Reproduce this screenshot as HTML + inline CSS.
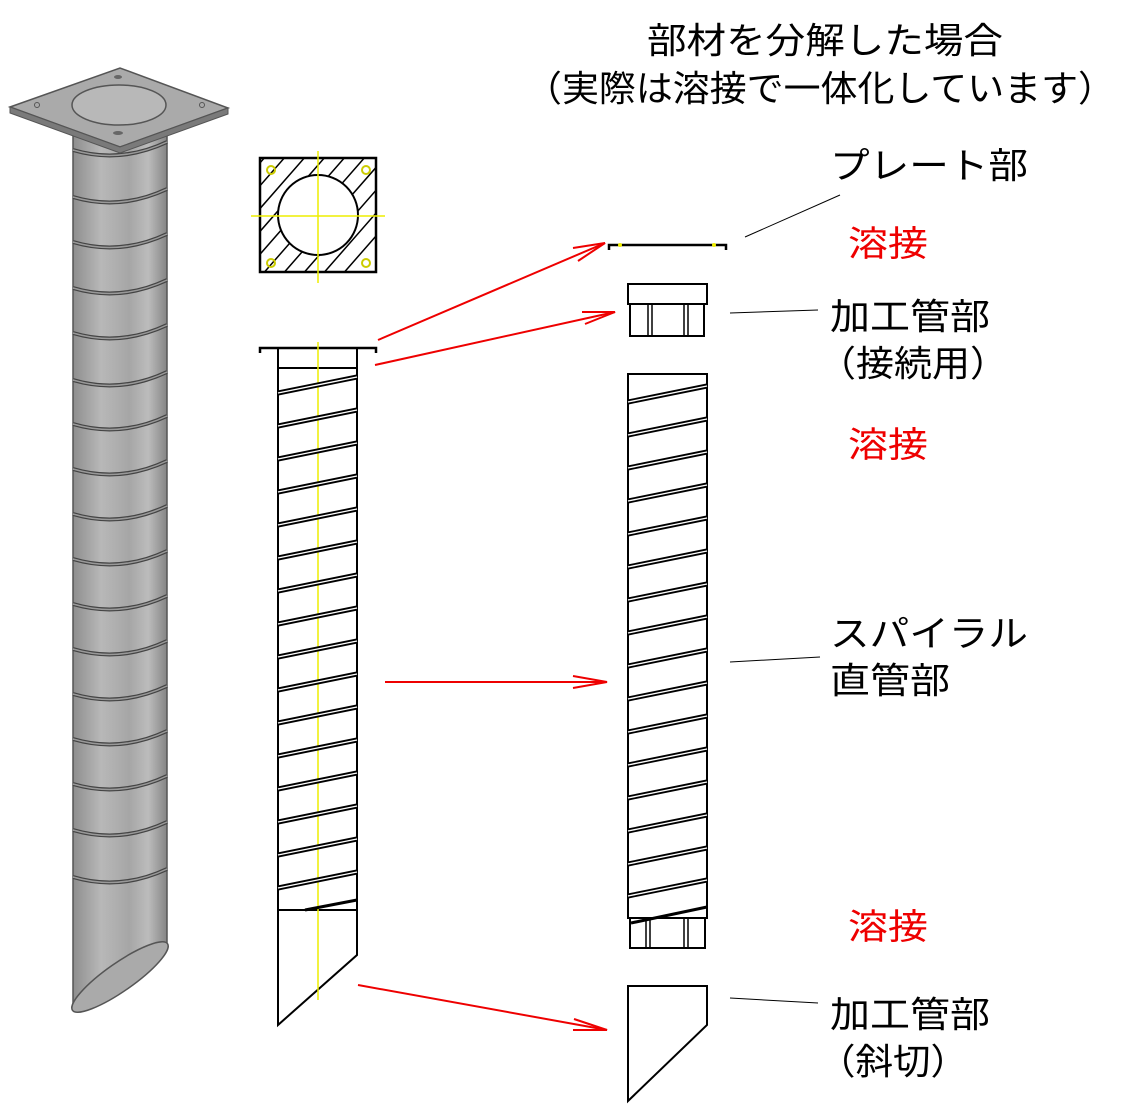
<!DOCTYPE html>
<html><head><meta charset="utf-8"><style>
body{margin:0;background:#fff;width:1132px;height:1110px;overflow:hidden}
svg{display:block}
text{font-family:"Liberation Sans","Noto Sans CJK JP",sans-serif}
</style></head><body>
<svg width="1132" height="1110" viewBox="0 0 1132 1110" xmlns="http://www.w3.org/2000/svg">
<defs>
<linearGradient id="pg" x1="0" x2="1" y1="0" y2="0">
<stop offset="0" stop-color="#8e8e8e"/><stop offset="0.3" stop-color="#b8b8b8"/><stop offset="0.6" stop-color="#a6a6a6"/><stop offset="0.8" stop-color="#bcbcbc"/><stop offset="1" stop-color="#858585"/>
</linearGradient>
<g id="sp"><line x1="0" y1="0" x2="79" y2="-16" stroke="#000" stroke-width="5"/><line x1="0" y1="0" x2="79" y2="-16" stroke="#fff" stroke-width="1.4"/></g>
<g id="ring"><path d="M0 0 Q47 14 94 -8" fill="none" stroke="#444" stroke-width="4"/><path d="M0 0 Q47 14 94 -8" fill="none" stroke="#999" stroke-width="1.5"/></g>
</defs>

<!-- Left 3D pile -->
<path d="M73 135 L167 135 L167 945 L73 1008 Z" fill="url(#pg)" stroke="#555" stroke-width="1.5"/>
<ellipse cx="120" cy="977" rx="58" ry="14" transform="rotate(-35 120 977)" fill="#aaa" stroke="#555" stroke-width="1.5"/>
<g transform="translate(73,0)">
<use href="#ring" y="150"/><use href="#ring" y="197"/><use href="#ring" y="242"/><use href="#ring" y="288"/><use href="#ring" y="333"/><use href="#ring" y="380"/><use href="#ring" y="424"/><use href="#ring" y="469"/><use href="#ring" y="514"/><use href="#ring" y="559"/><use href="#ring" y="604"/><use href="#ring" y="649"/><use href="#ring" y="694"/><use href="#ring" y="739"/><use href="#ring" y="784"/><use href="#ring" y="830"/><use href="#ring" y="877"/>
</g>
<path d="M10 107 L120 68 L228 108 L120 147 Z" fill="#aaa" stroke="#555" stroke-width="1.5"/>
<path d="M10 107 L10 113 L120 153 L228 114 L228 108 L120 147 Z" fill="#7a7a7a" stroke="#555" stroke-width="1"/>
<ellipse cx="119" cy="105" rx="47" ry="20" fill="#b8b8b8" stroke="#555" stroke-width="1.5"/>
<ellipse cx="118" cy="77" rx="4" ry="2" fill="#666"/><ellipse cx="118" cy="133" rx="5" ry="2" fill="#666"/><circle cx="37" cy="105" r="2.5" fill="none" stroke="#555"/><circle cx="202" cy="105" r="2.5" fill="none" stroke="#555"/>

<!-- Middle plan view -->
<clipPath id="sq"><rect x="260" y="158" width="116" height="114"/></clipPath>
<g clip-path="url(#sq)" stroke="#000" stroke-width="1.5">
<line x1="220" y1="300" x2="360" y2="140"/><line x1="240" y1="300" x2="380" y2="140"/><line x1="260" y1="300" x2="400" y2="140"/><line x1="280" y1="300" x2="420" y2="140"/><line x1="300" y1="300" x2="440" y2="140"/><line x1="320" y1="300" x2="460" y2="140"/><line x1="200" y1="300" x2="340" y2="140"/><line x1="180" y1="300" x2="320" y2="140"/><line x1="160" y1="300" x2="300" y2="140"/><line x1="140" y1="300" x2="280" y2="140"/>
</g>
<circle cx="318" cy="215" r="40" fill="#fff" stroke="#000" stroke-width="2"/>
<rect x="260" y="158" width="116" height="114" fill="none" stroke="#000" stroke-width="2.5"/>
<line x1="318" y1="151" x2="318" y2="283" stroke="#ee0" stroke-width="1.5"/>
<line x1="251" y1="216" x2="385" y2="216" stroke="#ee0" stroke-width="1.5"/>
<g fill="none" stroke="#cc0" stroke-width="2"><circle cx="271" cy="170" r="4"/><circle cx="366" cy="170" r="4"/><circle cx="271" cy="263" r="4"/><circle cx="366" cy="263" r="4"/></g>

<!-- Middle side view -->
<path d="M260 353 L260 348 L376 348 L376 353" fill="none" stroke="#000" stroke-width="2.5"/>
<path d="M278 348 L278 1025 L357 955 L357 348" fill="none" stroke="#000" stroke-width="2"/>
<line x1="278" y1="368" x2="357" y2="368" stroke="#000" stroke-width="2"/>
<line x1="278" y1="910" x2="357" y2="910" stroke="#000" stroke-width="2"/>
<line x1="318" y1="342" x2="318" y2="1000" stroke="#ee0" stroke-width="1.5"/>
<g transform="translate(278,0)">
<use href="#sp" y="393"/><use href="#sp" y="426"/><use href="#sp" y="459"/><use href="#sp" y="492"/><use href="#sp" y="525"/><use href="#sp" y="558"/><use href="#sp" y="591"/><use href="#sp" y="624"/><use href="#sp" y="657"/><use href="#sp" y="690"/><use href="#sp" y="723"/><use href="#sp" y="756"/><use href="#sp" y="789"/><use href="#sp" y="822"/><use href="#sp" y="855"/><use href="#sp" y="888"/>
</g>
<line x1="305" y1="910" x2="357" y2="900" stroke="#000" stroke-width="3"/>

<!-- Right parts -->
<path d="M609 250 L609 245 L726 245 L726 250" fill="none" stroke="#000" stroke-width="2.5"/>
<circle cx="620" cy="245" r="2" fill="#ee0"/><circle cx="714" cy="245" r="2" fill="#ee0"/>
<rect x="628" y="284" width="79" height="20" fill="#fff" stroke="#000" stroke-width="2"/>
<rect x="630" y="304" width="74" height="32" fill="#fff" stroke="#000" stroke-width="2"/>
<g stroke="#000" stroke-width="1.5"><line x1="648" y1="304" x2="648" y2="336"/><line x1="652" y1="304" x2="652" y2="336"/><line x1="684" y1="304" x2="684" y2="336"/><line x1="688" y1="304" x2="688" y2="336"/></g>
<rect x="628" y="374" width="79" height="544" fill="#fff" stroke="#000" stroke-width="2"/>
<g transform="translate(628,0)">
<use href="#sp" y="402"/><use href="#sp" y="435"/><use href="#sp" y="468"/><use href="#sp" y="501"/><use href="#sp" y="534"/><use href="#sp" y="567"/><use href="#sp" y="600"/><use href="#sp" y="633"/><use href="#sp" y="666"/><use href="#sp" y="699"/><use href="#sp" y="732"/><use href="#sp" y="765"/><use href="#sp" y="798"/><use href="#sp" y="831"/><use href="#sp" y="864"/><use href="#sp" y="896"/>
</g>
<rect x="630" y="918" width="75" height="30" fill="#fff" stroke="#000" stroke-width="2"/>
<g stroke="#000" stroke-width="1.5"><line x1="646" y1="918" x2="646" y2="948"/><line x1="650" y1="918" x2="650" y2="948"/><line x1="684" y1="918" x2="684" y2="948"/><line x1="688" y1="918" x2="688" y2="948"/></g>
<line x1="631" y1="923" x2="707" y2="907" stroke="#000" stroke-width="3"/>
<path d="M628 986 L707 986 L707 1025 L628 1101 Z" fill="none" stroke="#000" stroke-width="2"/>

<!-- Red arrows -->
<g stroke="#e00" stroke-width="2" fill="none">
<line x1="378" y1="340" x2="605" y2="243"/><path d="M573 248 L605 243 L578 261"/>
<line x1="375" y1="365" x2="615" y2="312"/><path d="M582 312 L615 312 L585 324"/>
<line x1="385" y1="682" x2="607" y2="682"/><path d="M573 676 L607 682 L573 688"/>
<line x1="358" y1="985" x2="607" y2="1030"/><path d="M574 1019 L607 1030 L573 1030"/>
</g>

<!-- Leader lines -->
<g stroke="#000" stroke-width="1">
<line x1="745" y1="237" x2="840" y2="195"/>
<line x1="730" y1="313" x2="818" y2="310"/>
<line x1="730" y1="662" x2="820" y2="657"/>
<line x1="730" y1="998" x2="818" y2="1003"/>
</g>

<!-- Text -->
<g font-size="36" fill="#000" lengthAdjust="spacingAndGlyphs">
<text x="647" y="53" textLength="356" lengthAdjust="spacingAndGlyphs">部材を分解した場合</text>
<text x="525" y="101" textLength="590" lengthAdjust="spacingAndGlyphs">（実際は溶接で一体化しています）</text>
<text x="830" y="178" textLength="198" lengthAdjust="spacingAndGlyphs">プレート部</text>
<text x="830" y="329" textLength="160" lengthAdjust="spacingAndGlyphs">加工管部</text>
<text x="818" y="376" textLength="190" lengthAdjust="spacingAndGlyphs">（接続用）</text>
<text x="830" y="646" textLength="198" lengthAdjust="spacingAndGlyphs">スパイラル</text>
<text x="830" y="693" textLength="120" lengthAdjust="spacingAndGlyphs">直管部</text>
<text x="830" y="1027" textLength="160" lengthAdjust="spacingAndGlyphs">加工管部</text>
<text x="818" y="1074" textLength="150" lengthAdjust="spacingAndGlyphs">（斜切）</text>
</g>
<g font-size="35" fill="#e00">
<text x="848" y="256" textLength="80" lengthAdjust="spacingAndGlyphs">溶接</text>
<text x="848" y="457" textLength="80" lengthAdjust="spacingAndGlyphs">溶接</text>
<text x="848" y="939" textLength="80" lengthAdjust="spacingAndGlyphs">溶接</text>
</g>
</svg>
</body></html>
